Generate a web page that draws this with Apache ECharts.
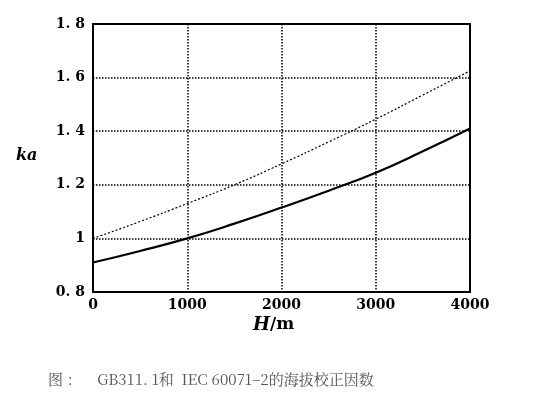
<!DOCTYPE html>
<html><head><meta charset="utf-8">
<script src="https://cdn.jsdelivr.net/npm/echarts@6/dist/echarts.min.js"></script>
<style>html,body{margin:0;background:#fff}#chart{width:536px;height:411px}</style>
</head><body><div id="chart"></div>
<script>
const altitudes = [0, 500, 1000, 1500, 2000, 2500, 3000, 3500, 4000];
const iecValues = [1.0, 1.063, 1.13, 1.2, 1.278, 1.36, 1.445, 1.535, 1.625];
const gbValues = [0.91, 0.953, 1.0, 1.055, 1.115, 1.178, 1.245, 1.325, 1.41];
const yTickLabels = {0.8: '0. 8', 1: '1', 1.2: '1. 2', 1.4: '1. 4', 1.6: '1. 6', 1.8: '1. 8'};

const pairs = v => altitudes.map((h, i) => [h, v[i]]);
const chart = echarts.init(document.getElementById('chart'));
const dotted = {type: 'dotted', color: '#000', width: 1.5};
chart.setOption({
  animation: false,
  textStyle: {fontFamily: 'DejaVu Serif'},
  grid: {left: 93, right: 66, top: 24, bottom: 119, show: true, borderColor: '#000', borderWidth: 2},
  xAxis: {
    type: 'value', min: 0, max: 4000, interval: 1000,
    axisLine: {lineStyle: {color: '#000', width: 2}}, axisTick: {show: false},
    splitLine: {lineStyle: dotted},
    axisLabel: {color: '#000', fontSize: 14, fontWeight: 'bold', margin: 6, formatter: v => String(v)}
  },
  yAxis: {
    type: 'value', min: 0.8, max: 1.8, interval: 0.2,
    axisLine: {lineStyle: {color: '#000', width: 2}}, axisTick: {show: false},
    splitLine: {lineStyle: dotted},
    axisLabel: {color: '#000', fontSize: 14, fontWeight: 'bold', margin: 8,
      formatter: v => yTickLabels[Math.round(v * 10) / 10] || ''}
  },
  graphic: [
    {type: 'text', left: 16, top: 148, style: {text: 'ka', font: 'italic bold 16px DejaVu Serif', fill: '#000'}},
    {type: 'text', left: 253, top: 316, style: {text: '{i|H}/m', rich: {i: {font: 'italic bold 18px DejaVu Serif'}}, font: 'bold 17px DejaVu Serif', fill: '#000'}},
    {type: 'text', left: 48, top: 372, style: {text: '图 ：    GB311. 1和  IEC 60071–2的海拔校正因数', font: '15px "Noto Serif CJK SC", "Liberation Serif", serif', fill: '#555'}}
  ],
  series: [
    {type: 'line', data: pairs(iecValues), smooth: true, symbol: 'none',
      lineStyle: {color: '#000', width: 1.2, type: [2, 2]}},
    {type: 'line', data: pairs(gbValues), smooth: true, symbol: 'none',
      lineStyle: {color: '#000', width: 2.2}}
  ]
});
</script></body></html>
